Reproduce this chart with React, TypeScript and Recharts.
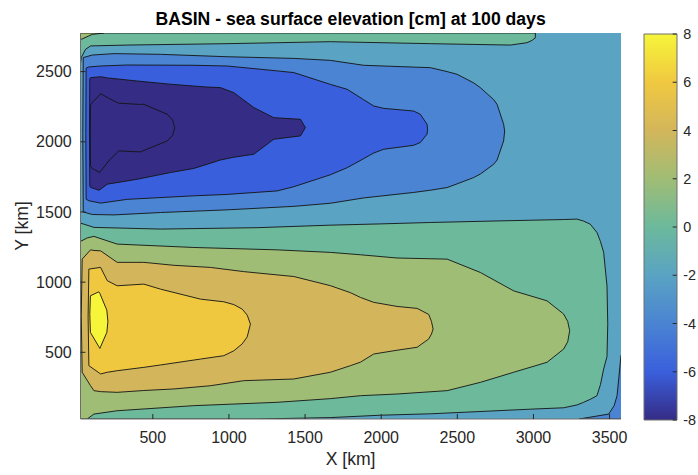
import { ComposedChart, Area, Bar, XAxis, YAxis, CartesianGrid } from 'recharts';

type Band = { x: number; lo: number; hi: number };

// axes, km
const xTicks = [500, 1000, 1500, 2000, 2500, 3000, 3500];
const yTicks = [500, 1000, 1500, 2000, 2500];
const xDomain: [number, number] = [25, 3575];
const yDomain: [number, number] = [25, 2775];

// colour scale, cm
const cbarTicks = [-8, -6, -4, -2, 0, 2, 4, 6, 8];
const colorbar = [{ name: 'ssh', lo: -8, hi: 8 }];

// contour bands: at each x [km] the y range [km] inside the level
// southern (positive) lobe
const south0: Band[] = [
  { x: 25, lo: 25, hi: 1420 }, { x: 48, lo: 25, hi: 1413 }, { x: 113, lo: 25, hi: 1390 },
  { x: 551, lo: 25, hi: 1378 }, { x: 1186, lo: 25, hi: 1388 }, { x: 1666, lo: 35, hi: 1406 },
  { x: 1995, lo: 52, hi: 1415 }, { x: 2323, lo: 62, hi: 1425 }, { x: 2761, lo: 84, hi: 1436 },
  { x: 2980, lo: 95, hi: 1441 }, { x: 3198, lo: 105, hi: 1446 }, { x: 3286, lo: 125, hi: 1449 },
  { x: 3329, lo: 144, hi: 1435 }, { x: 3373, lo: 165, hi: 1413 }, { x: 3417, lo: 191, hi: 1354 },
  { x: 3440, lo: 270, hi: 1290 }, { x: 3461, lo: 381, hi: 1212 }, { x: 3483, lo: 470, hi: 974 },
  { x: 3488, lo: 700, hi: 700 },
];
const south2: Band[] = [
  { x: 25, lo: 25, hi: 1290 }, { x: 69, lo: 25, hi: 1315 }, { x: 113, lo: 60, hi: 1326 },
  { x: 266, lo: 84, hi: 1271 }, { x: 769, lo: 120, hi: 1247 }, { x: 1317, lo: 144, hi: 1230 },
  { x: 1666, lo: 170, hi: 1212 }, { x: 1864, lo: 191, hi: 1195 }, { x: 2104, lo: 203, hi: 1172 },
  { x: 2433, lo: 227, hi: 1164 }, { x: 2651, lo: 286, hi: 1069 }, { x: 2870, lo: 358, hi: 938 },
  { x: 3089, lo: 429, hi: 867 }, { x: 3198, lo: 523, hi: 773 }, { x: 3225, lo: 575, hi: 720 },
  { x: 3238, lo: 654, hi: 654 },
];
const south4: Band[] = [
  { x: 30, lo: 760, hi: 760 }, { x: 36, lo: 358, hi: 1164 }, { x: 91, lo: 262, hi: 1230 },
  { x: 113, lo: 227, hi: 1226 }, { x: 157, lo: 220, hi: 1223 }, { x: 266, lo: 215, hi: 1141 },
  { x: 441, lo: 228, hi: 1141 }, { x: 638, lo: 239, hi: 1120 }, { x: 879, lo: 262, hi: 1105 },
  { x: 1097, lo: 298, hi: 1075 }, { x: 1426, lo: 310, hi: 1040 }, { x: 1666, lo: 358, hi: 975 },
  { x: 1798, lo: 405, hi: 925 }, { x: 1864, lo: 430, hi: 891 }, { x: 1951, lo: 488, hi: 856 },
  { x: 2104, lo: 515, hi: 827 }, { x: 2236, lo: 536, hi: 813 }, { x: 2312, lo: 595, hi: 770 },
  { x: 2330, lo: 630, hi: 720 }, { x: 2341, lo: 666, hi: 666 },
];
const south6: Band[] = [
  { x: 75, lo: 750, hi: 750 }, { x: 80, lo: 405, hi: 1093 }, { x: 157, lo: 346, hi: 1105 },
  { x: 201, lo: 358, hi: 1010 }, { x: 266, lo: 369, hi: 974 }, { x: 441, lo: 393, hi: 986 },
  { x: 551, lo: 410, hi: 950 }, { x: 813, lo: 452, hi: 879 }, { x: 966, lo: 476, hi: 860 },
  { x: 1032, lo: 511, hi: 840 }, { x: 1087, lo: 560, hi: 808 }, { x: 1120, lo: 610, hi: 765 },
  { x: 1141, lo: 701, hi: 701 },
];
const south8: Band[] = [
  { x: 86, lo: 770, hi: 770 }, { x: 90, lo: 642, hi: 903 }, { x: 145, lo: 541, hi: 931 },
  { x: 152, lo: 528, hi: 920 }, { x: 198, lo: 642, hi: 800 }, { x: 205, lo: 720, hi: 720 },
];
const southCorner: Band[] = [
  { x: 3300, lo: 25, hi: 25 }, { x: 3494, lo: 25, hi: 60 }, { x: 3530, lo: 25, hi: 120 },
  { x: 3549, lo: 25, hi: 191 }, { x: 3560, lo: 25, hi: 310 }, { x: 3575, lo: 25, hi: 480 },
];

// northern (negative) lobe
const north0: Band[] = [
  { x: 25, lo: 2560, hi: 2775 }, { x: 30, lo: 2600, hi: 2775 }, { x: 58, lo: 2659, hi: 2775 },
  { x: 91, lo: 2683, hi: 2775 }, { x: 332, lo: 2689, hi: 2775 }, { x: 988, lo: 2699, hi: 2775 },
  { x: 1666, lo: 2713, hi: 2775 }, { x: 2323, lo: 2699, hi: 2775 }, { x: 2849, lo: 2689, hi: 2775 },
  { x: 2958, lo: 2706, hi: 2775 }, { x: 2990, lo: 2722, hi: 2775 }, { x: 3012, lo: 2740, hi: 2775 },
  { x: 3013, lo: 2775, hi: 2775 },
];
const northCorner: Band[] = [
  { x: 25, lo: 2725, hi: 2775 }, { x: 30, lo: 2730, hi: 2775 }, { x: 102, lo: 2765, hi: 2775 },
  { x: 178, lo: 2775, hi: 2775 },
];
const north2: Band[] = [
  { x: 40, lo: 2050, hi: 2050 }, { x: 43, lo: 1500, hi: 2600 }, { x: 102, lo: 1482, hi: 2618 },
  { x: 244, lo: 1479, hi: 2628 }, { x: 551, lo: 1496, hi: 2623 }, { x: 988, lo: 1515, hi: 2606 },
  { x: 1426, lo: 1540, hi: 2594 }, { x: 1666, lo: 1562, hi: 2580 }, { x: 1885, lo: 1600, hi: 2545 },
  { x: 2213, lo: 1639, hi: 2532 }, { x: 2323, lo: 1655, hi: 2528 }, { x: 2433, lo: 1674, hi: 2500 },
  { x: 2498, lo: 1700, hi: 2481 }, { x: 2607, lo: 1745, hi: 2420 }, { x: 2651, lo: 1770, hi: 2386 },
  { x: 2739, lo: 1840, hi: 2300 }, { x: 2761, lo: 1870, hi: 2267 }, { x: 2804, lo: 2006, hi: 2125 },
  { x: 2811, lo: 2077, hi: 2077 },
];
const north4: Band[] = [
  { x: 60, lo: 2060, hi: 2060 }, { x: 62, lo: 1591, hi: 2525 }, { x: 80, lo: 1580, hi: 2533 },
  { x: 157, lo: 1563, hi: 2540 }, { x: 332, lo: 1590, hi: 2547 }, { x: 769, lo: 1615, hi: 2545 },
  { x: 988, lo: 1625, hi: 2540 }, { x: 1317, lo: 1650, hi: 2505 }, { x: 1426, lo: 1680, hi: 2493 },
  { x: 1666, lo: 1765, hi: 2409 }, { x: 1776, lo: 1815, hi: 2374 }, { x: 1885, lo: 1880, hi: 2300 },
  { x: 1951, lo: 1920, hi: 2255 }, { x: 2017, lo: 1947, hi: 2238 }, { x: 2213, lo: 1975, hi: 2219 },
  { x: 2257, lo: 1995, hi: 2196 }, { x: 2301, lo: 2054, hi: 2125 }, { x: 2305, lo: 2089, hi: 2089 },
];
const north6: Band[] = [
  { x: 84, lo: 2070, hi: 2070 }, { x: 86, lo: 1686, hi: 2450 }, { x: 91, lo: 1675, hi: 2457 },
  { x: 146, lo: 1655, hi: 2462 }, { x: 157, lo: 1662, hi: 2464 }, { x: 201, lo: 1698, hi: 2455 },
  { x: 398, lo: 1733, hi: 2433 }, { x: 616, lo: 1781, hi: 2410 }, { x: 769, lo: 1810, hi: 2397 },
  { x: 857, lo: 1840, hi: 2390 }, { x: 944, lo: 1870, hi: 2386 }, { x: 1032, lo: 1890, hi: 2350 },
  { x: 1163, lo: 1911, hi: 2244 }, { x: 1294, lo: 2018, hi: 2172 }, { x: 1470, lo: 2042, hi: 2160 },
  { x: 1502, lo: 2101, hi: 2101 },
];
const north8: Band[] = [
  { x: 89, lo: 2050, hi: 2050 }, { x: 91, lo: 1828, hi: 2260 }, { x: 102, lo: 1810, hi: 2279 },
  { x: 152, lo: 1781, hi: 2335 }, { x: 157, lo: 1790, hi: 2343 }, { x: 211, lo: 1864, hi: 2310 },
  { x: 266, lo: 1925, hi: 2279 }, { x: 277, lo: 1935, hi: 2275 }, { x: 419, lo: 1928, hi: 2266 },
  { x: 441, lo: 1938, hi: 2267 }, { x: 595, lo: 2006, hi: 2196 }, { x: 630, lo: 2045, hi: 2155 },
  { x: 644, lo: 2101, hi: 2101 },
];

// washed parula, one colour per level from -8 to 8
const PARULA = ['#352c85', '#3a5fdc', '#4a84d2', '#5aa3c3', '#6cb99c', '#a0bd75', '#d3b65b', '#f0c840', '#f6f53a'];
const colorOf = (level: number) => PARULA[(level + 8) / 2];

const layers: { key: string; data: Band[]; level: number }[] = [
  { key: 's0', data: south0, level: 0 },
  { key: 's2', data: south2, level: 2 },
  { key: 's4', data: south4, level: 4 },
  { key: 's6', data: south6, level: 6 },
  { key: 's8', data: south8, level: 8 },
  { key: 'sc', data: southCorner, level: -4 },
  { key: 'n0', data: north0, level: 0 },
  { key: 'nc', data: northCorner, level: 2 },
  { key: 'n2', data: north2, level: -4 },
  { key: 'n4', data: north4, level: -6 },
  { key: 'n6', data: north6, level: -8 },
  { key: 'n8', data: north8, level: -8 },
];

const FONT = "'Liberation Sans', Arial, Helvetica, sans-serif";
const INK = '#262626';
const BOX = '#6e6e6e';
const LINE = '#141414';

const range = (d: Band) => [d.lo, d.hi];
const noLabel = () => <g />;

export default function App() {
  const tickStyle = { fontSize: 16, fill: INK, fontFamily: FONT };
  return (
    <div style={{ position: 'absolute', left: 0, top: 0, width: 698, height: 475, background: '#fff' }}>
      <div style={{ position: 'absolute', left: 0, top: 0 }}>
        <ComposedChart width={698} height={475} margin={{ top: 33, right: 77, bottom: 0, left: 0 }}>
          <CartesianGrid horizontal={false} vertical={false} fill={colorOf(-2)} stroke="none" />
          {layers.map((l) => (
            <Area
              key={l.key}
              data={l.data}
              dataKey={range}
              type="linear"
              fill={colorOf(l.level)}
              fillOpacity={1}
              stroke={LINE}
              strokeWidth={1}
              strokeOpacity={0.9}
              dot={false}
              activeDot={false}
              isAnimationActive={false}
            />
          ))}
          <XAxis
            type="number"
            dataKey="x"
            domain={xDomain}
            ticks={xTicks}
            interval={0}
            allowDataOverflow
            height={56}
            tickSize={-5}
            tickMargin={18}
            tick={tickStyle}
            stroke={BOX}
            tickLine={{ stroke: INK }}
          />
          <XAxis
            xAxisId="top"
            orientation="top"
            type="number"
            dataKey="x"
            domain={xDomain}
            ticks={xTicks}
            interval={0}
            allowDataOverflow
            height={0}
            tickSize={-5}
            tick={noLabel}
            stroke={BOX}
            tickLine={{ stroke: INK }}
          />
          <YAxis
            type="number"
            domain={yDomain}
            ticks={yTicks}
            interval={0}
            allowDataOverflow
            width={80.5}
            tickSize={-5}
            tickMargin={13.8}
            tick={tickStyle}
            stroke={BOX}
            tickLine={{ stroke: INK }}
          />
          <YAxis
            yAxisId="right"
            orientation="right"
            type="number"
            domain={yDomain}
            ticks={yTicks}
            interval={0}
            allowDataOverflow
            width={0}
            tickSize={-5}
            tick={noLabel}
            stroke={BOX}
            tickLine={{ stroke: INK }}
          />
        </ComposedChart>
      </div>
      <div style={{ position: 'absolute', left: 0, top: 0 }}>
        <ComposedChart
          width={698}
          height={475}
          data={colorbar}
          barCategoryGap={0}
          margin={{ top: 34, right: 0, bottom: 55, left: 644 }}
        >
          <defs>
            <linearGradient id="parula" x1="0" y1="0" x2="0" y2="1">
              {PARULA.slice().reverse().map((c, i) => (
                <stop key={c} offset={i / (PARULA.length - 1)} stopColor={c} />
              ))}
            </linearGradient>
          </defs>
          <XAxis dataKey="name" hide />
          <YAxis
            orientation="right"
            type="number"
            domain={[-8, 8]}
            ticks={cbarTicks}
            interval={0}
            width={21.3}
            axisLine={false}
            tickSize={-4}
            tickMargin={10.6}
            tick={{ fontSize: 14.4, fill: INK, fontFamily: FONT }}
            tickLine={{ stroke: INK }}
          />
          <Bar dataKey={(d: { lo: number; hi: number }) => [d.lo, d.hi]} fill="url(#parula)" stroke={BOX} isAnimationActive={false} />
        </ComposedChart>
      </div>
      <svg width={698} height={475} style={{ position: 'absolute', left: 0, top: 0, pointerEvents: 'none' }}>
        <text x={350.6} y={25} textAnchor="middle" fontFamily={FONT} fontWeight="bold" fontSize={17.6} fill="#000">
          BASIN - sea surface elevation [cm] at 100 days
        </text>
        <text x={350.6} y={465} textAnchor="middle" fontFamily={FONT} fontSize={17.6} fill={INK}>
          X [km]
        </text>
        <text
          x={27.5}
          y={226}
          textAnchor="middle"
          fontFamily={FONT}
          fontSize={17.6}
          fill={INK}
          transform="rotate(-90 27.5 226)"
        >
          Y [km]
        </text>
      </svg>
    </div>
  );
}
